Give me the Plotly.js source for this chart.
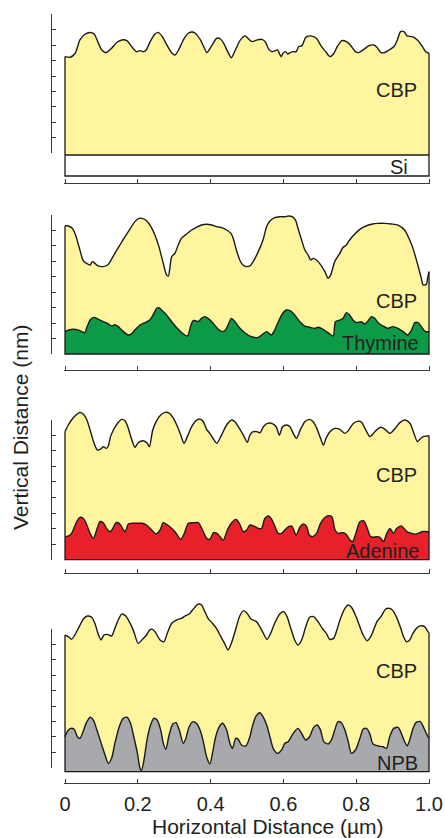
<!DOCTYPE html>
<html><head><meta charset="utf-8">
<script src="https://cdn.plot.ly/plotly-3.0.1.min.js"></script>
<style>html,body{margin:0;padding:0;background:#fff}#chart{width:445px;height:838px}</style>
</head><body><div id="chart"></div>
<script>
// ---------- data (horizontal distance in µm, vertical distance in tick units) ----------
const xTicks = [0, 0.2, 0.4, 0.6, 0.8, 1.0];
const xTickText = ['0', '0.2', '0.4', '0.6', '0.8', '1.0'];
const yTickCount = 9;

// Panel 1: CBP on Si
const p1X = [0,0.014,0.028,0.041,0.055,0.069,0.080,0.092,0.101,0.113,0.128,0.142,0.156,0.170,0.183,0.197,0.206,0.216,0.223,0.234,0.245,0.255,0.266,0.280,0.294,0.303,0.312,0.326,0.339,0.349,0.358,0.372,0.381,0.390,0.404,0.417,0.427,0.436,0.447,0.457,0.468,0.482,0.495,0.505,0.514,0.528,0.541,0.550,0.560,0.569,0.578,0.584,0.590,0.594,0.599,0.606,0.612,0.619,0.628,0.635,0.642,0.651,0.661,0.672,0.683,0.693,0.702,0.716,0.728,0.739,0.748,0.761,0.773,0.784,0.798,0.807,0.821,0.835,0.849,0.858,0.867,0.878,0.890,0.904,0.913,0.922,0.931,0.940,0.954,0.968,0.982,0.991,1.0];
const p1CBP = [6.26,6.22,6.48,7.34,7.71,7.82,7.73,7.12,6.69,6.52,6.80,7.17,7.34,7.30,6.91,6.58,6.65,6.58,6.69,7.23,7.66,7.83,7.60,7.01,6.48,6.37,6.69,7.38,7.77,7.85,7.77,7.34,6.91,6.52,7.01,7.45,7.40,7.12,6.58,6.19,6.69,7.34,7.60,7.38,7.23,7.34,7.38,7.23,6.73,6.58,6.65,6.69,6.41,6.26,6.48,6.58,6.43,6.52,6.58,6.58,6.91,6.97,7.49,7.60,7.55,7.38,7.01,6.58,6.26,6.48,6.91,7.30,7.23,7.01,6.58,6.52,6.73,6.97,7.01,6.84,6.54,6.52,6.69,6.91,7.34,7.88,7.88,7.60,7.55,7.34,6.91,6.58,6.48];
const siTop = -0.11;
const siBottom = -1.47;

// Panel 2: CBP on Thymine
const p2CbpX = [0,0.009,0.020,0.029,0.041,0.050,0.059,0.069,0.075,0.082,0.091,0.105,0.117,0.124,0.137,0.151,0.165,0.178,0.192,0.203,0.212,0.224,0.236,0.247,0.258,0.270,0.279,0.284,0.288,0.293,0.302,0.311,0.320,0.334,0.348,0.361,0.375,0.389,0.403,0.416,0.430,0.444,0.456,0.462,0.471,0.480,0.489,0.499,0.508,0.517,0.531,0.544,0.554,0.563,0.576,0.590,0.604,0.615,0.624,0.633,0.640,0.650,0.659,0.668,0.675,0.682,0.691,0.703,0.714,0.723,0.730,0.741,0.755,0.764,0.773,0.782,0.796,0.810,0.823,0.842,0.860,0.878,0.897,0.915,0.933,0.947,0.956,0.968,0.979,0.984,0.993,0.996,1.0];
const p2CBP = [8.31,8.29,8.14,7.71,6.73,6.04,5.87,5.76,5.98,5.87,5.70,5.66,5.76,5.98,6.52,7.06,7.60,8.07,8.57,8.78,8.78,8.63,8.25,7.71,6.95,5.87,5.12,5.05,5.55,6.30,6.52,7.06,7.49,7.77,8.03,8.20,8.35,8.40,8.35,8.25,8.18,8.03,7.81,7.49,6.73,6.09,5.76,5.66,5.70,5.98,6.63,7.38,8.25,8.61,8.83,8.89,8.89,8.94,8.89,8.68,8.14,7.38,6.73,6.41,6.09,6.19,6.09,5.76,5.33,4.90,5.12,5.98,6.52,6.91,7.06,7.38,7.77,8.07,8.25,8.40,8.46,8.46,8.42,8.35,8.03,7.38,6.84,5.87,4.90,4.47,4.51,4.90,5.33];
const p2ThyX = [0,0.009,0.023,0.037,0.046,0.055,0.059,0.069,0.078,0.087,0.096,0.105,0.117,0.128,0.137,0.146,0.160,0.174,0.183,0.192,0.206,0.220,0.233,0.242,0.252,0.258,0.265,0.279,0.293,0.311,0.329,0.337,0.346,0.352,0.359,0.366,0.375,0.384,0.393,0.407,0.421,0.432,0.441,0.450,0.457,0.467,0.478,0.494,0.512,0.531,0.544,0.554,0.567,0.576,0.586,0.597,0.608,0.618,0.631,0.645,0.659,0.672,0.686,0.695,0.709,0.718,0.727,0.737,0.743,0.755,0.764,0.773,0.782,0.791,0.801,0.814,0.823,0.833,0.842,0.851,0.860,0.874,0.887,0.901,0.915,0.929,0.941,0.952,0.961,0.970,0.979,0.990,1.0];
const p2Thymine = [1.45,1.55,1.60,1.55,1.45,1.38,1.66,2.20,2.37,2.31,2.20,2.09,1.99,1.81,1.90,1.77,1.45,1.23,1.30,1.55,1.88,2.03,2.20,2.53,2.96,3.00,2.85,2.53,2.09,1.60,1.23,1.17,1.88,2.16,2.16,2.09,2.31,2.42,2.31,1.99,1.60,1.45,1.55,1.99,2.31,2.09,1.73,1.38,1.12,1.08,1.30,1.45,1.23,1.55,2.09,2.59,2.85,2.81,2.53,2.09,1.81,1.73,1.66,1.73,1.60,1.45,1.30,1.17,2.09,2.20,2.31,2.68,2.53,2.20,2.03,2.09,1.94,2.16,2.42,2.31,2.03,1.81,1.66,1.77,1.66,1.45,1.23,1.55,2.03,2.03,1.77,1.45,1.45];
const p2Base = 0;

// Panel 3: CBP on Adenine
const p3CbpX = [0,0.009,0.018,0.030,0.041,0.050,0.060,0.069,0.080,0.089,0.098,0.105,0.113,0.119,0.125,0.133,0.144,0.156,0.165,0.174,0.183,0.192,0.201,0.215,0.226,0.232,0.241,0.252,0.263,0.275,0.287,0.298,0.307,0.318,0.327,0.336,0.348,0.360,0.371,0.380,0.389,0.398,0.408,0.417,0.430,0.444,0.458,0.467,0.476,0.490,0.501,0.508,0.517,0.527,0.536,0.545,0.556,0.568,0.580,0.589,0.598,0.609,0.618,0.627,0.636,0.647,0.659,0.671,0.682,0.693,0.702,0.710,0.717,0.728,0.742,0.755,0.769,0.778,0.792,0.806,0.815,0.824,0.838,0.847,0.861,0.870,0.879,0.893,0.907,0.920,0.934,0.948,0.957,0.968,0.975,0.984,0.994,1.0];
const p3CBP = [8.23,8.66,8.98,9.30,9.47,9.36,8.98,8.34,7.48,7.05,7.11,7.26,7.16,7.31,7.91,8.34,8.76,9.02,8.94,8.44,7.74,7.22,7.52,7.65,7.48,7.26,8.34,8.94,9.30,9.47,9.41,9.09,8.66,8.01,7.48,7.91,8.55,8.94,9.04,8.87,8.38,8.12,7.74,7.48,8.01,8.66,8.98,8.87,8.55,8.01,7.54,8.01,8.23,8.23,8.16,8.55,8.76,8.76,8.55,8.01,8.55,8.66,8.55,8.12,7.80,8.38,8.87,9.02,8.87,8.38,7.80,7.37,7.80,8.23,8.44,8.38,8.12,8.29,8.76,8.91,8.83,8.44,7.91,8.12,8.44,8.51,8.38,8.12,8.44,8.81,8.98,8.76,8.23,7.59,7.74,7.91,7.95,7.97];
const p3AdeX = [0,0.009,0.018,0.032,0.041,0.050,0.060,0.069,0.078,0.087,0.096,0.105,0.114,0.124,0.133,0.140,0.149,0.158,0.165,0.174,0.183,0.197,0.211,0.224,0.238,0.250,0.261,0.270,0.279,0.288,0.302,0.318,0.327,0.339,0.353,0.366,0.378,0.389,0.398,0.408,0.417,0.426,0.435,0.446,0.458,0.470,0.479,0.490,0.499,0.508,0.519,0.531,0.540,0.549,0.559,0.568,0.577,0.586,0.595,0.604,0.614,0.623,0.635,0.646,0.655,0.664,0.671,0.680,0.691,0.702,0.712,0.723,0.733,0.742,0.751,0.765,0.774,0.783,0.790,0.799,0.810,0.820,0.829,0.838,0.847,0.856,0.865,0.875,0.884,0.893,0.902,0.911,0.925,0.939,0.952,0.966,0.980,1.0];
const p3Adenine = [1.48,1.52,1.69,2.44,2.72,2.66,2.23,1.69,1.37,1.91,2.44,2.38,2.01,1.80,2.08,2.38,2.34,2.01,1.80,2.29,2.34,2.34,2.34,2.23,1.91,1.65,1.91,2.38,2.27,2.12,1.80,1.31,1.65,2.34,2.38,2.38,1.91,1.37,1.31,1.74,1.69,1.48,1.26,1.91,2.38,2.59,2.34,1.80,1.91,2.23,2.16,2.01,2.01,2.66,2.81,2.59,2.12,1.69,1.69,1.91,2.12,2.16,1.59,2.12,2.29,2.12,1.59,1.48,1.69,2.34,2.66,2.83,2.76,1.91,1.69,1.74,1.59,1.26,1.16,1.69,2.44,2.51,2.12,1.52,1.44,1.48,1.44,1.16,1.69,2.01,1.69,2.01,2.16,1.80,1.69,1.65,1.80,1.80];
const p3Base = 0;

// Panel 4: CBP on NPB
const p4CbpX = [0,0.009,0.018,0.027,0.039,0.050,0.061,0.073,0.082,0.092,0.099,0.107,0.116,0.128,0.137,0.146,0.156,0.167,0.178,0.189,0.201,0.213,0.224,0.233,0.241,0.250,0.261,0.272,0.281,0.293,0.306,0.320,0.329,0.341,0.352,0.366,0.375,0.384,0.393,0.405,0.416,0.427,0.439,0.448,0.457,0.469,0.480,0.491,0.500,0.512,0.526,0.535,0.544,0.555,0.565,0.576,0.590,0.601,0.610,0.619,0.631,0.640,0.650,0.661,0.672,0.683,0.695,0.707,0.718,0.727,0.738,0.747,0.757,0.769,0.778,0.787,0.799,0.810,0.819,0.830,0.837,0.846,0.857,0.869,0.881,0.892,0.901,0.910,0.921,0.930,0.938,0.947,0.956,0.965,0.976,0.988,0.997,1.0];
const p4CBP = [8.61,8.50,8.33,8.61,9.15,9.63,9.84,9.76,9.37,8.61,8.29,8.61,8.65,8.55,9.04,9.58,9.97,9.84,9.41,8.83,8.07,8.33,8.61,8.94,8.98,8.72,8.29,8.18,8.72,9.37,9.58,9.69,9.84,9.97,10.28,10.62,10.56,10.13,9.69,9.37,9.04,8.55,8.03,7.64,8.07,8.98,9.84,10.19,10.02,9.63,9.48,9.15,8.76,8.33,8.72,9.37,9.97,10.13,9.80,9.15,8.29,7.96,8.29,9.11,9.76,9.80,9.48,9.04,8.72,8.33,8.39,8.94,9.69,10.34,10.56,10.41,9.84,9.15,8.61,8.24,8.39,8.83,9.48,9.84,10.30,10.34,10.19,9.80,9.15,8.50,8.18,8.29,8.72,9.04,9.20,9.15,8.83,8.76];
const p4NpbX = [0,0.006,0.016,0.025,0.034,0.041,0.048,0.058,0.069,0.078,0.087,0.098,0.110,0.119,0.128,0.137,0.149,0.160,0.171,0.180,0.189,0.199,0.206,0.210,0.217,0.226,0.235,0.244,0.253,0.263,0.270,0.277,0.286,0.296,0.305,0.314,0.325,0.332,0.341,0.352,0.361,0.371,0.380,0.389,0.398,0.405,0.414,0.424,0.433,0.444,0.453,0.460,0.469,0.476,0.485,0.497,0.508,0.515,0.524,0.535,0.544,0.554,0.563,0.572,0.583,0.595,0.604,0.613,0.627,0.640,0.650,0.661,0.672,0.683,0.693,0.702,0.711,0.723,0.732,0.741,0.750,0.759,0.769,0.778,0.787,0.799,0.810,0.819,0.828,0.837,0.846,0.860,0.874,0.883,0.892,0.903,0.915,0.924,0.933,0.940,0.947,0.956,0.965,0.976,0.985,0.997,1.0];
const p4NPB = [2.01,2.34,2.55,2.49,2.01,1.90,2.23,2.88,3.27,3.09,2.49,1.69,0.82,0.28,0.61,1.58,2.66,3.20,3.27,2.88,2.01,0.93,-0.04,-0.19,0.50,1.90,2.77,3.20,3.09,2.44,1.58,1.19,2.12,2.83,2.92,2.44,1.58,1.90,2.66,2.99,2.88,2.44,1.69,0.71,0.24,0.93,2.01,2.66,2.88,2.44,1.58,1.25,1.90,1.84,1.47,1.41,2.01,2.70,3.31,3.57,3.31,2.77,2.01,1.25,0.93,1.15,1.58,1.69,2.23,2.55,2.23,1.80,2.01,2.62,2.77,2.44,1.69,1.54,1.80,2.44,2.99,2.92,2.44,1.69,0.93,1.19,1.90,2.49,2.55,2.23,1.54,1.41,1.36,1.25,2.01,2.55,2.62,2.23,1.69,1.41,1.80,2.55,2.94,2.99,2.62,2.01,1.90];
const p4Base = -0.26;

const layerNames = ['Si', 'Thymine', 'Adenine', 'NPB'];
const topLayerName = 'CBP';

// ---------- styling / layout (pixels of the 445x838 page) ----------
const W = 445, H = 838;
const FONT = '"Liberation Sans", Arial, Helvetica, sans-serif';
const INK = '#231f20';
const AX = '#3a3a3a';
const EDGE = '#1a1a1a';
const COL = {cbp: '#fff59e', thy: '#0d9a48', ade: '#e8202a', npb: '#a7a9ac'};
const PLOT_L = 65, PLOT_R = 429, YAX_X = 51;
const geom = [
  {T: 14.3,  B: 153.3, lo: -1.6, hi: 9.5,  xLine: 182.7},
  {T: 215.0, B: 354.0, lo: -0.4, hi: 9.5,  xLine: 370.0},
  {T: 419.7, B: 559.7, lo: -0.4, hi: 10.0, xLine: 572.7},
  {T: 629.0, B: 767.7, lo: -0.6, hi: 11.0, xLine: 783.3}
];
const py = p => 1 - p / H;
const pxX = p => p / W;

const panels = [
  {cx: p1X, cy: p1CBP, bx: null, by: null, base: siTop, floor: siBottom, fill: null},
  {cx: p2CbpX, cy: p2CBP, bx: p2ThyX, by: p2Thymine, base: p2Base, floor: p2Base, fill: COL.thy},
  {cx: p3CbpX, cy: p3CBP, bx: p3AdeX, by: p3Adenine, base: p3Base, floor: p3Base, fill: COL.ade},
  {cx: p4CbpX, cy: p4CBP, bx: p4NpbX, by: p4NPB, base: p4Base, floor: p4Base, fill: COL.npb}
];

const x0 = xTicks[0], x1 = xTicks[xTicks.length - 1];
const pad = 0.004;
const traces = [];
const layout = {
  width: W, height: H, margin: {l: 0, r: 0, t: 0, b: 0},
  paper_bgcolor: '#fff', plot_bgcolor: 'rgba(0,0,0,0)', showlegend: false,
  font: {family: FONT, color: INK, size: 20},
  annotations: []
};
const lineStyle = {color: EDGE, width: 1.4, shape: 'spline', smoothing: 0.7};

panels.forEach((p, i) => {
  const xid = i === 0 ? 'x' : 'x' + (i + 1);
  const yid = i === 0 ? 'y' : 'y' + (i + 1);
  const ydec = 'y' + (i + 5);
  const g = geom[i];
  const u = (g.B - g.T) / yTickCount;
  const topPx = g.T - (g.hi - yTickCount) * u;
  const botPx = g.B - g.lo * u;
  const span = (PLOT_R - PLOT_L);

  // baseline (bottom of the filled stack)
  traces.push({type: 'scatter', mode: 'lines', x: [x0, x1], y: [p.base, p.base], xaxis: xid, yaxis: yid,
    line: {color: EDGE, width: p.by ? 0 : 1.3}, hoverinfo: 'skip'});
  if (p.by) {
    traces.push({type: 'scatter', mode: 'lines', x: p.bx, y: p.by, xaxis: xid, yaxis: yid,
      fill: 'tonexty', fillcolor: p.fill, line: lineStyle, hoverinfo: 'skip'});
  }
  traces.push({type: 'scatter', mode: 'lines', x: p.cx, y: p.cy, xaxis: xid, yaxis: yid,
    fill: 'tonexty', fillcolor: COL.cbp, line: lineStyle, hoverinfo: 'skip'});
  // outline of the stack (left edge, bottom, right edge)
  traces.push({type: 'scatter', mode: 'lines',
    x: [x0, x0, x1, x1], y: [p.cy[0], p.floor, p.floor, p.cy[p.cy.length - 1]],
    xaxis: xid, yaxis: yid, line: {color: EDGE, width: 1.3}, hoverinfo: 'skip'});
  // empty trace to attach the tick-only vertical axis
  traces.push({type: 'scatter', mode: 'lines', x: [], y: [], xaxis: xid, yaxis: ydec, hoverinfo: 'skip'});

  const xk = i === 0 ? 'xaxis' : 'xaxis' + (i + 1);
  const yk = i === 0 ? 'yaxis' : 'yaxis' + (i + 1);
  layout[xk] = {
    domain: [pxX(PLOT_L - pad * span), pxX(PLOT_R + pad * span)], range: [x0 - pad, x1 + pad],
    anchor: 'free', position: py(g.xLine),
    showline: true, linecolor: AX, linewidth: 1, ticks: 'inside', ticklen: 4, tickwidth: 1, tickcolor: AX,
    tickvals: xTicks, ticktext: xTickText, showticklabels: i === 3, ticklabelstandoff: 3,
    tickfont: {family: FONT, size: 20, color: INK},
    showgrid: false, zeroline: false, fixedrange: true
  };
  layout[yk] = {
    domain: [py(botPx), py(topPx)], range: [g.lo, g.hi], anchor: xid,
    visible: false, showgrid: false, zeroline: false, fixedrange: true
  };
  layout['yaxis' + (i + 5)] = {
    domain: [py(g.B), py(g.T)], range: [0, yTickCount], tick0: 0, dtick: 1,
    anchor: 'free', position: pxX(YAX_X),
    showline: true, linecolor: AX, linewidth: 1, ticks: 'inside', ticklen: 4, tickwidth: 1, tickcolor: AX,
    showticklabels: false, showgrid: false, zeroline: false, fixedrange: true
  };
});

// layer labels
const labelPos = [
  {text: topLayerName, x: 419, y: 89.5}, {text: layerNames[0], x: 410, y: 166.5},
  {text: topLayerName, x: 419, y: 301}, {text: layerNames[1], x: 421, y: 342.5},
  {text: topLayerName, x: 419, y: 474.7}, {text: layerNames[2], x: 421, y: 551},
  {text: topLayerName, x: 419, y: 671.3}, {text: layerNames[3], x: 420, y: 762.5}
];
labelPos.forEach(l => layout.annotations.push({
  text: l.text, xref: 'paper', yref: 'paper', x: pxX(l.x), y: py(l.y),
  xanchor: 'right', yanchor: 'middle', showarrow: false,
  font: {family: FONT, size: 20, color: INK}
}));
// axis titles
layout.annotations.push({
  text: 'Horizontal Distance (µm)', xref: 'paper', yref: 'paper', x: pxX(268), y: 0,
  xanchor: 'center', yanchor: 'bottom', yshift: -2, showarrow: false, font: {family: FONT, size: 21, color: INK}
});
layout.annotations.push({
  text: 'Vertical Distance (nm)', xref: 'paper', yref: 'paper', x: pxX(21), y: py(428),
  xanchor: 'center', yanchor: 'middle', textangle: -90, showarrow: false,
  font: {family: FONT, size: 21, color: INK}
});

Plotly.newPlot('chart', traces, layout, {staticPlot: true, displayModeBar: false});
</script>
</body></html>
